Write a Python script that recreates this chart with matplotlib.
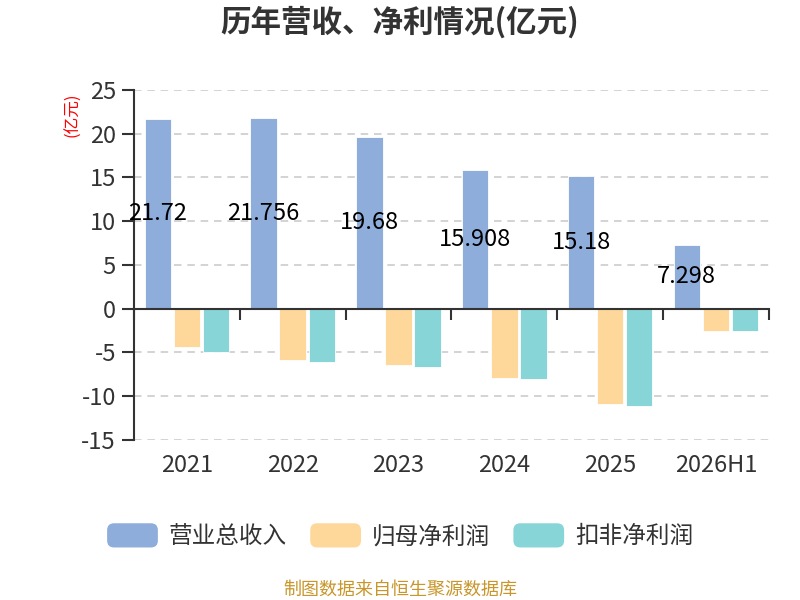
import numpy as np
import matplotlib
matplotlib.use('Agg')
import matplotlib.pyplot as plt
import matplotlib.patches as patches
from matplotlib.legend_handler import HandlerPatch
from matplotlib.transforms import blended_transform_factory

plt.rcParams['font.family'] = ['Noto Sans CJK SC', 'DejaVu Sans']
plt.rcParams['axes.unicode_minus'] = False

# data (亿元)
years = ['2021', '2022', '2023', '2024', '2025', '2026H1']
revenue = [21.72, 21.756, 19.68, 15.908, 15.18, 7.298]
net_profit = [-4.43, -5.91, -6.48, -7.92, -10.87, -2.50]
net_profit_deducted = [-4.92, -6.10, -6.70, -8.07, -11.14, -2.54]
series_names = ['营业总收入', '归母净利润', '扣非净利润']
colors = ['#8eaddb', '#fed89a', '#88d5d8']


class RoundHandler(HandlerPatch):
    def create_artists(self, legend, orig_handle, xdescent, ydescent,
                       width, height, fontsize, trans):
        p = patches.FancyBboxPatch((-xdescent, -ydescent), width, height,
                                   boxstyle='round,pad=0,rounding_size=5',
                                   facecolor=orig_handle.get_facecolor(),
                                   edgecolor='none', transform=trans)
        return [p]


fig = plt.figure(figsize=(8, 6), dpi=100)
ax = fig.add_axes([0.1675, 0.2667, 0.961 - 0.1675, 0.85 - 0.2667])

x = np.arange(len(years))
bw = 0.25
step = 0.275
all_series = [revenue, net_profit, net_profit_deducted]
handles = []
for i, vals in enumerate(all_series):
    ax.bar(x + (i - 1) * step, vals, width=bw, color=colors[i],
           edgecolor='white', linewidth=0.6, zorder=3, label=series_names[i])
    handles.append(patches.Patch(facecolor=colors[i], label=series_names[i]))

# value labels in the middle of the revenue bars
for xi, v in zip(x, revenue):
    ax.text(xi - step, v / 2, f'{v:g}', ha='center', va='center',
            fontsize=17, color='black', zorder=5)

ax.set_xlim(-0.5, len(years) - 0.5)
ax.set_ylim(-15, 25)
ax.set_yticks(np.arange(-15, 26, 5))

# dashed grid, skip the zero line
for t in ax.get_yticks():
    if t != 0:
        ax.axhline(t, color='#cccccc', lw=1.2, ls=(0, (4.5, 3.5)), zorder=1)

for s in ['top', 'right']:
    ax.spines[s].set_visible(False)
ax.spines['left'].set_color('#333333')
ax.spines['left'].set_linewidth(1.5)
ax.spines['bottom'].set_position(('data', 0))
ax.spines['bottom'].set_color('#333333')
ax.spines['bottom'].set_linewidth(1.5)
ax.spines['bottom'].set_zorder(4)

# ticks on the zero line sit at the category boundaries
ax.set_xticks(np.arange(-0.5, len(years), 1.0))
ax.set_xticklabels([])
ax.tick_params(axis='x', direction='out', length=8, width=1.5, color='#333333')
ax.tick_params(axis='y', direction='out', length=9, width=1.5, color='#333333',
               labelsize=17, labelcolor='#333333', pad=4)

trans = blended_transform_factory(ax.transData, ax.transAxes)
for xi, lab in zip(x, years):
    ax.text(xi, -0.072, lab, transform=trans, ha='center', va='center',
            fontsize=17, color='#333333')

fig.text(0.5, 0.962, '历年营收、净利情况(亿元)', ha='center', va='center',
         fontsize=22, fontweight='bold', color='#333333')
fig.text(73 / 800, 1 - 115 / 600, '(亿元)', rotation=90, ha='center',
         va='center', fontsize=12, color='red')

leg = fig.legend(handles=handles, loc='center', bbox_to_anchor=(0.5, 0.107),
                 ncol=3, frameon=False, fontsize=17,
                 handler_map={patches.Patch: RoundHandler()},
                 handlelength=2.15, handleheight=1.2, handletextpad=0.45,
                 columnspacing=1.0)
for t in leg.get_texts():
    t.set_color('#333333')

fig.text(0.5, 1 - 590 / 600, '制图数据来自恒生聚源数据库', ha='center',
         va='center', fontsize=13, color='#c8962a')

fig.savefig('out.png', dpi=100)
plt.close()
